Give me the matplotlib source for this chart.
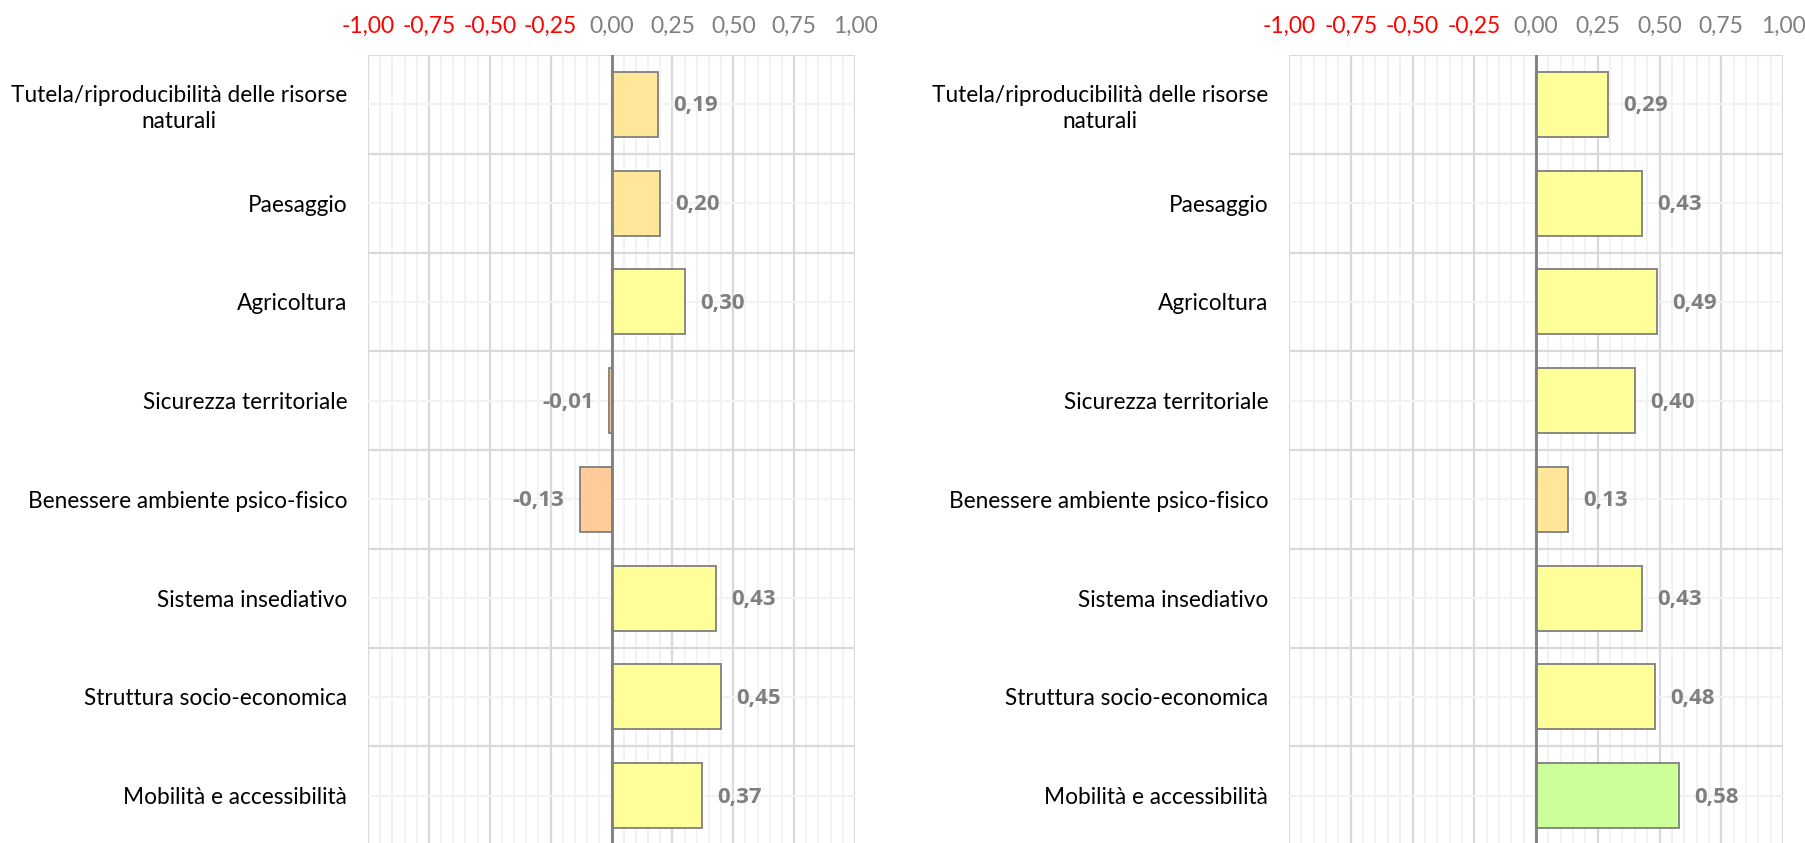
import matplotlib
matplotlib.use("Agg")
import matplotlib.pyplot as plt
import numpy as np
from matplotlib.ticker import MultipleLocator, FixedLocator

categories = [
    "Tutela/riproducibilità delle risorse\nnaturali",
    "Paesaggio",
    "Agricoltura",
    "Sicurezza territoriale",
    "Benessere ambiente psico-fisico",
    "Sistema insediativo",
    "Struttura socio-economica",
    "Mobilità e accessibilità",
]
values_left = [0.19, 0.20, 0.30, -0.01, -0.13, 0.43, 0.45, 0.37]
values_right = [0.29, 0.43, 0.49, 0.40, 0.13, 0.43, 0.48, 0.58]
x_ticks = [-1.00, -0.75, -0.50, -0.25, 0.00, 0.25, 0.50, 0.75, 1.00]

plt.rcParams['font.family'] = ['Lato', 'DejaVu Sans']

W, H = 1805, 843
fig = plt.figure(figsize=(W / 100, H / 100), dpi=100)


def bar_color(v):
    if v < 0:
        return "#FFCC99"
    if v < 0.25:
        return "#FFE699"
    if v <= 0.5:
        return "#FFFF99"
    return "#CCFF99"


def fmt(v):
    return f"{v:.2f}".replace(".", ",")


def draw(ax, values):
    y = np.arange(len(categories))
    ax.set_xlim(-1, 1)
    ax.set_ylim(len(categories) - 0.5, -0.5)
    ax.xaxis.set_major_locator(FixedLocator(x_ticks))
    ax.xaxis.set_minor_locator(MultipleLocator(0.05))
    ax.yaxis.set_major_locator(FixedLocator(y))
    ax.yaxis.set_minor_locator(FixedLocator(np.arange(len(categories) + 1) - 0.5))
    ax.grid(which="minor", axis="x", color="#F2F2F2", lw=1.4, zorder=0)
    ax.grid(which="major", axis="x", color="#D9D9D9", lw=1.6, zorder=0.5)
    ax.grid(which="major", axis="y", color="#F2F2F2", lw=1.4, zorder=0)
    ax.grid(which="minor", axis="y", color="#D9D9D9", lw=1.6, zorder=0.5)
    ax.set_axisbelow(True)
    for s in ax.spines.values():
        s.set_visible(False)
    ax.barh(y, values, height=0.66, color=[bar_color(v) for v in values],
            edgecolor="#7F7F7F", linewidth=1.3, zorder=2)
    ax.axvline(0, color="#7F7F7F", lw=2.0, zorder=3)
    for yi, v in zip(y, values):
        ha = "left" if v >= 0 else "right"
        off = 11 if v >= 0 else -11
        ax.annotate(fmt(v), (v, yi), xytext=(off, -1), textcoords="offset points",
                    ha=ha, va="center", fontsize=16, fontweight="bold",
                    family=["Open Sans", "DejaVu Sans"],
                    color="#7F7F7F", zorder=4)
    ax.xaxis.tick_top()
    ax.set_xticks(x_ticks)
    ax.set_xticklabels([fmt(t) for t in x_ticks], fontsize=16.5)
    for lab, t in zip(ax.get_xticklabels(), x_ticks):
        lab.set_color("#FF0000" if t < 0 else "#7F7F7F")
    ax.set_yticks(y)
    ax.set_yticklabels(categories, fontsize=16.3, color="#000000",
                       multialignment="center", linespacing=1.25)
    ax.tick_params(axis="both", which="both", length=0)
    ax.tick_params(axis="x", pad=13)
    ax.tick_params(axis="y", pad=15)


ax_top = 55
ax_bot = 845
axL = fig.add_axes([368 / W, 1 - ax_bot / H, (855 - 368) / W, (ax_bot - ax_top) / H])
axR = fig.add_axes([1289 / W, 1 - ax_bot / H, (1783 - 1289) / W, (ax_bot - ax_top) / H])
draw(axL, values_left)
draw(axR, values_right)

fig.savefig("out.png", dpi=100)
